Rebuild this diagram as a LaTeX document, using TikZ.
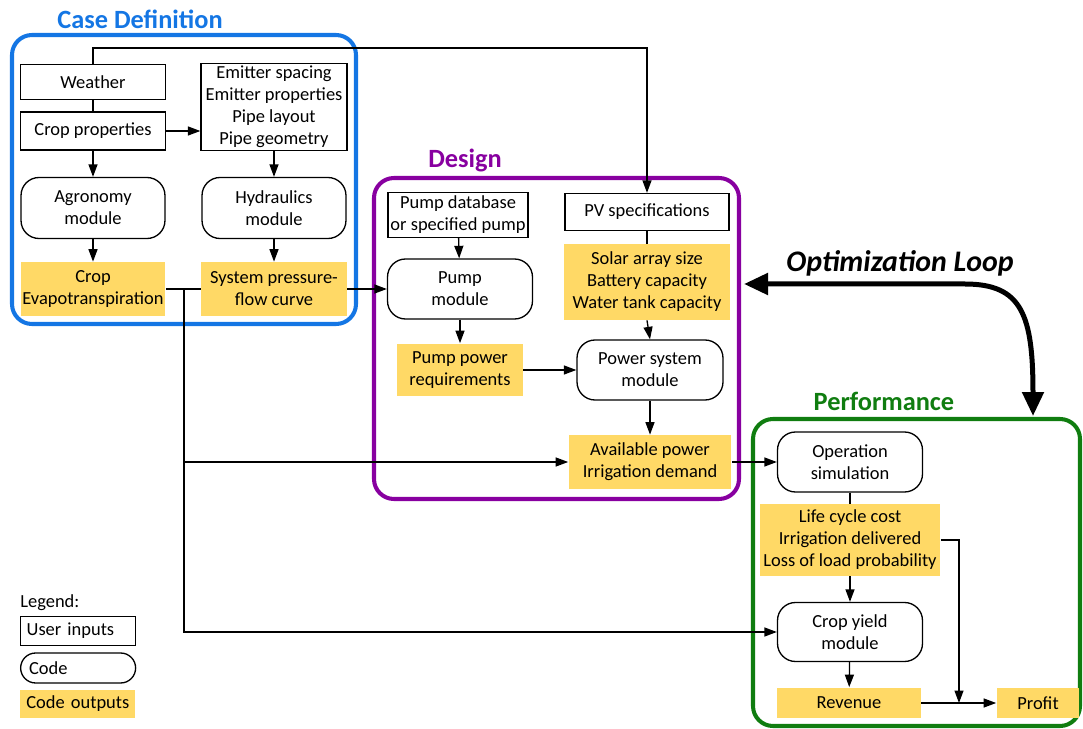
\documentclass[tikz,border=0pt]{standalone}
\usepackage{fontspec}
\setmainfont{Carlito}
\usetikzlibrary{arrows.meta}

\definecolor{casecol}{RGB}{20,118,228}
\definecolor{designcol}{RGB}{136,0,160}
\definecolor{perfcol}{RGB}{16,125,16}
\definecolor{outcol}{RGB}{255,217,102}

\tikzset{
  userbox/.style={draw, line width=0.75pt, align=center, inner sep=1pt},
  codebox/.style={draw, line width=0.75pt, rounded corners=0.36cm, align=center, inner sep=1pt},
  outbox/.style={fill=outcol, align=center, inner sep=1pt},
  group/.style={line width=2.3pt, rounded corners=0.4cm},
  conn/.style={line width=0.75pt},
  grouptitle/.style={font=\bfseries\fontsize{15}{17}\selectfont},
}

\begin{document}
\begin{tikzpicture}[x=0.02cm, y=-0.02cm, font=\fontsize{10.5}{12.5}\selectfont,
  >={Triangle[length=2.5mm, width=1.8mm]}]
\useasboundingbox (0,0) rectangle (1083,729);

% group frames
\draw[group, casecol] (12,35) rectangle (356,324);
\draw[group, designcol] (374,178) rectangle (739,499);
\draw[group, perfcol] (753,419) rectangle (1080,726);

\node[grouptitle, text=casecol] (casetitle) at (140,19) {Case Definition};
\node[grouptitle, text=designcol] (designtitle) at (465,160) {Design};
\node[grouptitle, text=perfcol] (perftitle) at (884,401) {Performance};

% case definition
\node[userbox, minimum width=2.9cm, minimum height=0.7cm] (weather) at (93,82) {Weather};
\node[userbox, minimum width=2.9cm, minimum height=0.76cm] (cropprop) at (93,131) {Crop properties};
\node[userbox, minimum width=2.92cm, minimum height=1.74cm] (emitter) at (274,107) {Emitter spacing\\Emitter properties\\Pipe layout\\Pipe geometry};
\node[codebox, minimum width=2.88cm, minimum height=1.22cm] (agro) at (93,208) {Agronomy\\module};
\node[codebox, minimum width=2.88cm, minimum height=1.22cm] (hydro) at (274,208) {Hydraulics\\module};
\node[outbox, minimum width=2.9cm, minimum height=1.08cm] (cropet) at (93,289) {Crop\\Evapotranspiration};
\node[outbox, minimum width=2.92cm, minimum height=1.08cm] (sysflow) at (274,289) {System pressure-\\flow curve};

% design
\node[userbox, minimum width=2.8cm, minimum height=0.9cm] (pumpdb) at (458,215) {Pump database\\or specified pump};
\node[codebox, minimum width=2.9cm, minimum height=1.2cm] (pump) at (460,289) {Pump\\module};
\node[outbox, minimum width=2.52cm, minimum height=1.06cm] (pumppow) at (460,370) {Pump power\\requirements};
\node[userbox, minimum width=3.28cm, minimum height=0.74cm] (pvspec) at (647,212) {PV specifications};
\node[outbox, minimum width=3.34cm, minimum height=1.52cm] (sizing) at (647,282) {Solar array size\\Battery capacity\\Water tank capacity};
\node[codebox, minimum width=2.92cm, minimum height=1.2cm] (powsys) at (650,370) {Power system\\module};
\node[outbox, minimum width=3.26cm, minimum height=1.08cm] (avail) at (650,462) {Available power\\Irrigation demand};

% performance
\node[codebox, minimum width=2.9cm, minimum height=1.2cm] (opsim) at (850,462) {Operation\\simulation};
\node[outbox, minimum width=3.62cm, minimum height=1.44cm] (lcc) at (850,540) {Life cycle cost\\Irrigation delivered\\Loss of load probability};
\node[codebox, minimum width=2.9cm, minimum height=1.18cm] (yield) at (850,632) {Crop yield\\module};
\node[outbox, minimum width=2.88cm, minimum height=0.62cm] (revenue) at (849,703) {Revenue};
\node[outbox, minimum width=1.66cm, minimum height=0.62cm] (profit) at (1038,703) {Profit};

% legend
\node[anchor=west, inner sep=0pt] (legend) at (20,603) {Legend:};
\node[userbox, anchor=west, minimum height=0.58cm, text width=2.06cm, inner xsep=0.12cm, align=left] (leguser) at (20,631) {User inputs};
\node[codebox, rounded corners=0.3cm, anchor=west, minimum height=0.6cm, text width=1.96cm, inner xsep=0.17cm, align=left] (legcode) at (20,668) {Code};
\node[outbox, anchor=west, minimum height=0.58cm, text width=2.06cm, inner xsep=0.12cm, align=left] (legout) at (20,704) {Code outputs};

% connectors
\coordinate (top) at (93,48);
\draw[conn, ->] (weather.north) -- (top) -| (pvspec.north);
\draw[conn] (weather) -- (cropprop);
\draw[conn, ->] (cropprop) -- (emitter.west |- cropprop);
\draw[conn, ->] (cropprop) -- (agro);
\draw[conn, ->] (emitter) -- (hydro);
\draw[conn, ->] (agro) -- (cropet);
\draw[conn, ->] (hydro) -- (sysflow);
\draw[conn] (cropet) -- (sysflow);
\draw[conn, ->] (sysflow) -- (pump);

\coordinate (split) at (184,289);
\draw[conn, ->] (split) |- (yield.west);
\draw[conn, ->] (split |- avail.west) -- (avail.west);

\draw[conn, ->] (pumpdb) -- (pump);
\draw[conn, ->] (pump) -- (pumppow);
\draw[conn, ->] (pumppow) -- (powsys);
\draw[conn] (pvspec) -- (sizing);
\draw[conn, ->] (sizing.south) -- (powsys.north);
\draw[conn, ->] (powsys) -- (avail);
\draw[conn, ->] (avail) -- (opsim);

\draw[conn] (opsim) -- (lcc);
\draw[conn, ->] (lcc) -- (yield);
\draw[conn, ->] (yield) -- (revenue);
\draw[conn, ->] (revenue) -- (profit);
\coordinate (merge) at (959,703);
\draw[conn, ->] (lcc.east) -| (merge);

% optimization loop
\node[font=\bfseries\itshape\fontsize{17}{20}\selectfont] (optlabel) at (900,263) {Optimization Loop};
\coordinate (optL) at (744,284);
\coordinate (optR) at (1033,416);
\draw[line width=0.1cm, {Triangle[length=0.48cm, width=0.42cm]}-{Triangle[length=0.48cm, width=0.42cm]}]
  (optL) -- (965,284) .. controls (1022,284) and (1033,315) .. (optR);

\end{tikzpicture}
\end{document}
